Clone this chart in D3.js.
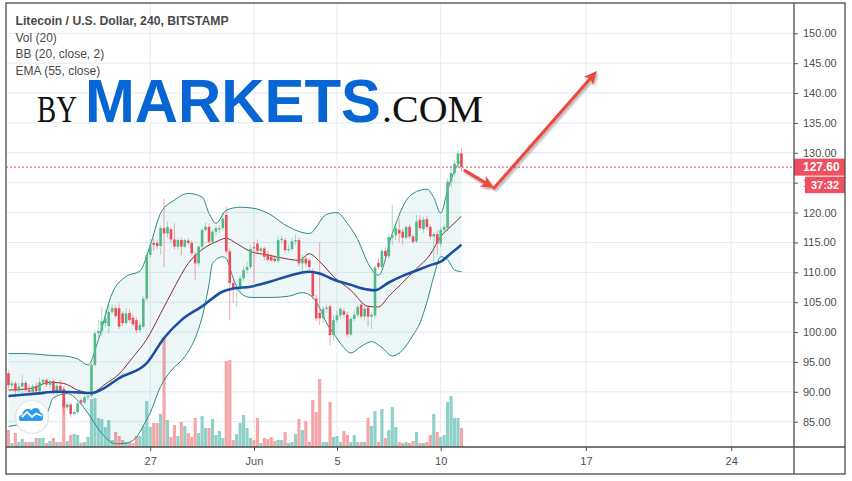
<!DOCTYPE html>
<html><head><meta charset="utf-8">
<script src="https://cdn.jsdelivr.net/npm/d3@7"></script>
<style>html,body{margin:0;padding:0;background:#fff;}svg{display:block;}</style>
</head><body>
<svg id="chart" width="852" height="481"></svg>
<script>
// ---------- DATA ----------
const title = "Litecoin / U.S. Dollar, 240, BITSTAMP";
const legendLines = ["Vol (20)", "BB (20, close, 2)", "EMA (55, close)"];
const priceTicks = [85,90,95,100,105,110,115,120,125,130,135,140,145,150];
const timeTicks = [
  {date:"2019-05-27", label:"27"},
  {date:"2019-06-01", label:"Jun"},
  {date:"2019-06-05", label:"5"},
  {date:"2019-06-10", label:"10"},
  {date:"2019-06-17", label:"17"},
  {date:"2019-06-24", label:"24"}];
const firstCandle = "2019-05-20T04:00:00Z"; // 4h candles
const opens = [93.1,91.1,91.4,90.2,90.9,91.5,90.3,90.0,90.9,90.1,
91.6,92.0,91.2,91.8,89.8,91.0,90.5,87.4,87.9,86.3,
86.6,88.6,88.2,89.1,89.3,94.5,99.8,100.2,101.5,101.0,
103.4,104.0,104.0,103.1,101.5,103.2,102.4,102.0,100.3,100.9,
105.6,112.9,114.9,114.9,114.4,117.4,116.5,117.2,115.5,114.3,
115.4,114.3,115.3,114.9,112.9,111.5,114.3,117.1,117.6,115.1,
116.8,117.2,117.4,119.6,113.5,108.2,107.3,107.3,109.0,110.4,
110.9,114.2,114.8,113.6,114.0,113.0,112.6,112.3,111.9,115.4,
115.4,113.7,113.9,115.2,115.4,111.5,112.3,112.0,109.8,105.6,
103.2,102.3,103.9,104.3,99.5,102.0,102.8,103.5,102.9,99.6,
102.2,102.9,104.6,102.6,104.1,102.6,102.8,111.6,110.9,113.6,
112.7,115.8,116.2,117.1,116.8,115.8,117.6,116.0,115.2,118.8,
117.2,118.9,117.6,116.0,116.4,114.8,117.1,117.4,125.2,126.6,
128.2,129.9];
const highs = [93.6,91.9,91.8,91.5,92.9,91.9,91.2,91.3,91.6,92.4,
92.2,92.3,92.0,92.1,91.4,92.0,90.9,88.4,88.2,87.0,
88.5,88.9,89.5,89.6,94.8,100.2,102.0,104.2,103.8,105.0,
104.6,104.5,104.8,103.5,104.0,103.8,103.0,102.5,101.7,106.0,
113.2,115.5,115.6,115.4,117.8,122.3,118.5,117.5,118.2,115.8,
115.8,115.6,115.7,115.3,113.4,114.5,117.3,118.3,118.2,117.2,
117.8,117.9,120.1,121.0,114.0,108.8,108.0,109.5,111.0,111.8,
114.5,115.1,115.5,114.4,114.3,113.5,113.0,112.8,116.0,116.2,
115.8,114.6,115.7,116.3,115.8,112.9,112.8,112.4,110.6,106.2,
115.0,104.3,104.6,104.6,102.8,103.6,104.2,104.0,103.4,102.6,
103.4,104.6,104.9,104.4,104.5,103.3,111.2,112.3,114.0,114.2,
116.4,121.3,117.9,119.0,117.4,117.9,118.0,116.4,119.6,119.6,
119.3,119.4,118.0,116.7,117.0,117.6,118.0,125.8,127.8,128.6,
130.5,130.8];
const lows = [90.6,90.3,89.1,89.8,89.4,89.9,89.6,89.7,89.5,89.9,
91.0,90.8,90.6,89.5,89.5,89.9,86.3,86.9,85.8,85.9,
86.2,87.8,88.0,88.6,89.0,94.2,98.6,99.4,100.8,99.8,
103.0,102.4,100.5,101.0,101.2,101.6,100.9,99.8,99.9,100.6,
105.2,112.4,113.6,113.9,113.0,110.9,115.8,115.0,113.8,113.8,
112.8,114.0,114.6,112.8,108.7,111.0,113.8,116.8,114.6,114.8,
116.2,116.6,117.0,113.0,102.1,104.9,104.2,106.4,108.5,109.8,
110.5,108.2,113.0,113.2,112.0,111.8,111.8,111.6,111.5,114.9,
113.2,113.3,113.5,114.6,111.0,110.2,111.0,110.3,105.5,101.8,
101.2,101.5,103.2,97.8,98.6,101.5,102.3,102.4,99.2,99.3,
101.8,102.5,102.2,102.0,100.9,100.5,102.4,110.5,110.6,112.2,
112.3,114.6,115.4,115.0,114.6,115.5,115.6,114.8,114.9,117.0,
116.6,117.2,115.5,111.8,113.0,114.2,116.5,116.8,124.2,126.0,
127.6,126.8];
const closes = [91.1,91.4,90.2,90.9,91.5,90.3,90.0,90.9,90.1,91.6,
92.0,91.2,91.8,89.8,91.0,90.2,87.4,87.9,86.3,86.6,
88.1,88.2,89.1,89.3,94.5,99.8,100.2,101.8,102.3,103.4,
104.0,102.7,100.9,101.5,103.1,102.0,101.3,100.3,101.2,105.6,
112.9,114.6,114.6,114.4,117.4,116.5,117.6,115.5,114.3,115.4,
114.3,115.4,114.9,113.2,111.5,114.3,117.1,117.6,115.1,116.8,
117.4,117.4,119.0,113.5,108.2,107.3,107.6,109.0,110.4,110.9,
113.9,114.0,113.6,114.0,112.6,112.1,112.0,111.9,115.4,115.6,
113.7,113.9,115.2,115.4,111.5,112.3,111.5,110.9,106.0,102.3,
102.3,103.9,104.1,99.5,102.0,102.8,103.9,102.9,99.6,102.2,
102.9,104.2,102.6,103.9,102.6,102.9,110.8,110.9,113.6,112.7,
115.9,116.2,117.4,116.5,115.8,117.6,116.0,115.1,118.5,117.4,
118.8,117.6,116.0,116.4,114.8,117.1,117.6,125.2,126.6,128.2,
129.9,127.6];
const volumes = [17,4,14,5,8,5,5,5,9,9,
9,4,6,9,5,5,50,6,12,13,
12,4,5,10,48,49,29,28,20,27,
7,15,11,7,5,5,4,11,11,21,
46,20,24,24,33,110,27,10,22,11,
25,21,14,10,29,14,31,19,19,28,
12,16,9,86,87,7,13,24,32,19,
9,7,29,4,9,8,10,6,7,7,
15,4,5,13,28,17,26,5,47,35,
68,5,5,45,10,11,5,16,12,5,
12,5,5,5,29,21,36,5,38,9,
17,40,20,5,4,5,4,6,15,4,
4,5,12,33,15,10,12,45,51,29,
29,19];
// indicator readings: [candle index, value]
const bbUpper = [[0,96.4],[4,96.4],[8,96.3],[12,96.1],[16,96.0],[20,95.5],[23,94.5],[26,98.7],[30,106.5],[34,109.3],[38,110.2],[41,114.5],[44,119.9],[48,122.1],[52,123.2],[56,122.6],[58,119.9],[60,118.2],[63,120.4],[67,120.9],[71,120.7],[75,119.9],[81,117.6],[87,116.5],[92,119.7],[95,120.0],[98,118.2],[101,115.5],[104,111.5],[107,109.5],[111,116.5],[115,122.0],[118,123.5],[121,123.9],[123,122.5],[125,119.9],[127,123.8],[129,127.0],[131,128.8]];
const bbMiddle = [[0,90.3],[6,90.5],[12,91.6],[16,91.4],[20,90.3],[24,89.8],[28,91.3],[32,93.0],[36,95.8],[40,98.8],[44,103.1],[48,107.5],[52,111.5],[56,113.8],[60,115.1],[63,115.7],[66,114.8],[70,113.5],[75,112.9],[80,112.3],[84,112.0],[87,113.1],[90,111.8],[94,109.3],[99,107.0],[104,104.3],[107,104.2],[110,106.0],[114,108.3],[118,110.6],[122,113.0],[125,116.0],[128,117.7],[131,119.4]];
const bbLower = [[0,84.2],[4,84.6],[8,85.0],[11,86.2],[13,89.0],[17,89.7],[20,88.6],[23,86.4],[27,83.0],[31,81.3],[34,81.4],[37,82.4],[39,84.3],[41,86.5],[44,90.9],[47,93.5],[51,95.9],[54,99.0],[56,102.5],[58,108.0],[59,111.5],[62,112.6],[63,112.3],[65,109.0],[67,106.6],[70,105.8],[76,105.8],[81,106.0],[85,106.6],[88,105.8],[90,104.0],[92,101.5],[94,99.8],[97,97.4],[99,96.5],[102,97.6],[105,98.4],[108,97.4],[111,96.0],[114,97.0],[117,99.5],[119,101.5],[121,105.0],[123,109.3],[125,112.6],[127,112.1],[129,110.4],[131,110.1]];
const ema55 = [[0,89.3],[8,89.7],[14,90.0],[20,89.9],[24,89.8],[27,90.4],[32,92.3],[40,94.8],[45,99.0],[50,102.0],[56,104.3],[62,106.8],[65,107.3],[70,107.6],[76,108.5],[81,109.4],[87,110.1],[90,109.8],[94,108.8],[99,107.9],[104,107.1],[106,107.0],[110,108.3],[114,109.4],[118,110.3],[122,111.2],[125,111.8],[128,113.2],[131,114.6]];
const lastPrice = 127.60;
const countdown = "37:32";
const arrowPoints = [
  {t:"2019-06-11T04:00:00Z", p:127.0},
  {t:"2019-06-12T13:40:00Z", p:124.1},
  {t:"2019-06-17T12:45:00Z", p:143.7}];

// ---------- LAYOUT ----------
const L=6, R=794, T=3, B=447, AR=845, AB=474;
const UP="#53b987", DN="#eb4d5c";
const FONT="Arial, 'Liberation Sans', sans-serif";
const svg=d3.select("#chart");
const x=d3.scaleUtc().domain([new Date(Date.UTC(2019,4,20,1,10)), new Date(Date.UTC(2019,5,27,0,40))]).range([L,R]);
const y=d3.scaleLinear().domain([85,150]).range([421.7,33.3]);
const yv=d3.scaleLinear().domain([0,110]).range([B,337]);
const t0=new Date(firstCandle).getTime();
const tj=j=>new Date(t0+j*4*3600e3);
const candles=opens.map((o,j)=>({t:tj(j),o,h:highs[j],l:lows[j],c:closes[j],v:volumes[j]}));
const step=x(tj(1))-x(tj(0));

const defs=svg.append("defs");
defs.append("clipPath").attr("id","plot").append("rect").attr("x",L).attr("y",T).attr("width",R-L).attr("height",B-T);
const f=defs.append("filter").attr("id","shadow").attr("x","-20%").attr("y","-20%").attr("width","140%").attr("height","140%");
f.append("feDropShadow").attr("dx",1.5).attr("dy",2).attr("stdDeviation",1.3).attr("flood-color","#000").attr("flood-opacity",0.3);

svg.append("rect").attr("width",852).attr("height",481).attr("fill","#fff");
const plot=svg.append("g").attr("clip-path","url(#plot)");

// grid
plot.append("g").selectAll("line").data(priceTicks).join("line")
  .attr("x1",L).attr("x2",R).attr("y1",d=>y(d)).attr("y2",d=>y(d))
  .attr("stroke","#e2ebf2").attr("stroke-width",1);
plot.append("g").selectAll("line").data(timeTicks).join("line")
  .attr("x1",d=>x(new Date(d.date))).attr("x2",d=>x(new Date(d.date)))
  .attr("y1",T).attr("y2",B).attr("stroke","#e2ebf2").attr("stroke-width",1);

// volume
plot.append("g").selectAll("rect").data(candles).join("rect")
  .attr("x",d=>x(d.t)-step/2+0.15).attr("width",step-0.3)
  .attr("y",d=>yv(d.v)).attr("height",d=>B-yv(d.v))
  .attr("fill",d=>d.c>=d.o?"#8fd1c8":"#f6a6a6");

// Bollinger fill + lines
const pt=a=>a.map(([j,v])=>[x(tj(j)),y(v)]);
const line=d3.line().curve(d3.curveMonotoneX);
const up=pt(bbUpper), lo=pt(bbLower);
const fillPath=line(up)+"L"+line(lo.slice().reverse()).slice(1)+"Z";
plot.append("path").attr("d",fillPath).attr("fill","rgba(0,128,128,0.065)");
plot.append("path").attr("d",line(up)).attr("fill","none").attr("stroke","#268a8c").attr("stroke-width",1);
plot.append("path").attr("d",line(lo)).attr("fill","none").attr("stroke","#268a8c").attr("stroke-width",1);
plot.append("path").attr("d",line(pt(bbMiddle))).attr("fill","none").attr("stroke","#8a2b2b").attr("stroke-width",1);

// candles
const cg=plot.append("g");
cg.selectAll("line").data(candles).join("line")
  .attr("x1",d=>x(d.t)).attr("x2",d=>x(d.t)).attr("y1",d=>y(d.h)).attr("y2",d=>y(d.l))
  .attr("stroke",d=>d.c>=d.o?UP:DN).attr("stroke-opacity",0.5).attr("stroke-width",1);
cg.selectAll("rect").data(candles).join("rect")
  .attr("x",d=>x(d.t)-1.3).attr("width",2.6)
  .attr("y",d=>y(Math.max(d.o,d.c)))
  .attr("height",d=>Math.max(1,Math.abs(y(d.o)-y(d.c))))
  .attr("fill",d=>d.c>=d.o?UP:DN);

// EMA
plot.append("path").attr("d",line(pt(ema55))).attr("fill","none").attr("stroke","#1c4ea2").attr("stroke-width",2.6);

// last price dotted line
plot.append("line").attr("x1",L).attr("x2",R).attr("y1",y(lastPrice)).attr("y2",y(lastPrice))
  .attr("stroke","#ea4d5a").attr("stroke-width",1).attr("stroke-dasharray","2,2");

// watermark
const wm=svg.append("g");
wm.append("text").attr("x",37).attr("y",121.7).attr("font-family","'Liberation Serif','Times New Roman',serif")
  .attr("font-size",38).attr("fill","#111").attr("textLength",40).attr("lengthAdjust","spacingAndGlyphs").text("BY");
wm.append("text").attr("x",85).attr("y",121.7).attr("font-family",FONT).attr("font-weight","bold")
  .attr("font-size",60.5).attr("fill","#0766d3").attr("textLength",296).attr("lengthAdjust","spacingAndGlyphs").text("MARKETS");
wm.append("text").attr("x",382).attr("y",121.7).attr("font-family","'Liberation Serif','Times New Roman',serif")
  .attr("font-size",38).attr("fill","#111").attr("textLength",101).attr("lengthAdjust","spacingAndGlyphs").text(".COM");

// legend
svg.append("text").attr("x",15.5).attr("y",24.5).attr("font-family",FONT).attr("font-size",12.2)
  .attr("font-weight","bold").attr("fill","#4a4a4a").text(title);
svg.append("g").selectAll("text").data(legendLines).join("text")
  .attr("x",15.5).attr("y",(d,i)=>41.5+i*16.6).attr("font-family",FONT).attr("font-size",12)
  .attr("fill","#4a4a4a").text(d=>d);

// arrow annotation
const ap=arrowPoints.map(d=>[x(new Date(d.t)),y(d.p)]);
const ag=svg.append("g").attr("filter","url(#shadow)");
function arrow(a,b){
  const dx=b[0]-a[0], dy=b[1]-a[1], len=Math.hypot(dx,dy), ux=dx/len, uy=dy/len;
  const hl=13, hw=6;
  const bx=b[0]-ux*hl, by=b[1]-uy*hl;
  ag.append("line").attr("x1",a[0]).attr("y1",a[1]).attr("x2",bx+ux*2).attr("y2",by+uy*2)
    .attr("stroke","#e94a3f").attr("stroke-width",3.2).attr("stroke-linecap","round");
  ag.append("path").attr("d",`M${b[0]},${b[1]}L${bx-uy*hw},${by+ux*hw}L${bx+ux*3},${by+uy*3}L${bx+uy*hw},${by-ux*hw}Z`)
    .attr("fill","#e94a3f");
}
arrow(ap[0],ap[1]);
arrow(ap[1],ap[2]);

// TradingView logo
const lg=svg.append("g");
lg.append("circle").attr("cx",32).attr("cy",417).attr("r",16.5).attr("fill","#fff").attr("stroke","#e3e6ea").attr("stroke-width",1.5);
lg.append("path").attr("d","M21,421 C18,421 18,415 22.5,414.5 C22.5,409 29,407.5 31.5,410.5 C33.5,406.5 40,407.5 40,412.5 C44,412.5 44.5,421 40.5,421 Z")
  .attr("fill","#2a9bf0");
lg.append("path").attr("d","M22,417 L27,412 L32,417 L36,413.5 L42,416").attr("fill","none").attr("stroke","#fff").attr("stroke-width",1.8);

// axes panels
const yAxis=d3.axisRight(y).tickValues(priceTicks).tickFormat(d3.format(".2f")).tickSize(4).tickPadding(5);
const ya=svg.append("g").attr("transform",`translate(${R},0)`).call(yAxis);
ya.select(".domain").remove();
ya.selectAll("line").attr("stroke","#555");
ya.selectAll("text").attr("font-family",FONT).attr("font-size",11).attr("fill","#4f4f4f");

const xAxis=d3.axisBottom(x).tickValues(timeTicks.map(d=>new Date(d.date)))
  .tickFormat((d,i)=>timeTicks[i].label).tickSize(4).tickPadding(6);
const xa=svg.append("g").attr("transform",`translate(0,${B})`).call(xAxis);
xa.select(".domain").remove();
xa.selectAll("line").attr("stroke","#555");
xa.selectAll("text").attr("font-family",FONT).attr("font-size",11).attr("fill","#4f4f4f");

// price labels
const yl=y(lastPrice);
svg.append("rect").attr("x",R).attr("y",yl-8.5).attr("width",AR-R).attr("height",17).attr("fill","#ef4f5f");
svg.append("text").attr("x",803).attr("y",yl+4.2).attr("font-family",FONT).attr("font-size",12)
  .attr("font-weight","bold").attr("fill","#fff").text(d3.format(".2f")(lastPrice));
svg.append("rect").attr("x",805).attr("y",yl+9.5).attr("width",AR-805).attr("height",16.5).attr("fill","#ef4f5f");
svg.append("text").attr("x",825).attr("y",yl+21.8).attr("text-anchor","middle").attr("font-family",FONT)
  .attr("font-size",11).attr("font-weight","bold").attr("fill","#fff").text(countdown);

// borders
const bd=svg.append("g").attr("stroke","#4d4d4d").attr("stroke-width",1.3).attr("fill","none");
bd.append("rect").attr("x",L).attr("y",T).attr("width",AR-L).attr("height",AB-T);
bd.append("line").attr("x1",R).attr("x2",R).attr("y1",T).attr("y2",AB);
bd.append("line").attr("x1",L).attr("x2",AR).attr("y1",B).attr("y2",B);
</script>
</body></html>
